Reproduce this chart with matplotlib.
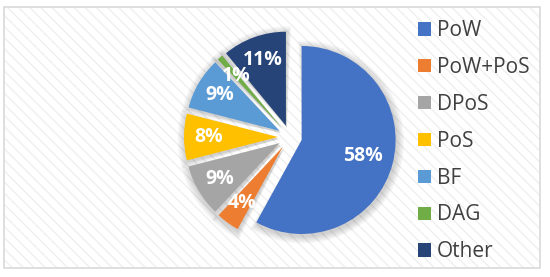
import matplotlib
matplotlib.use("Agg")
import matplotlib.pyplot as plt
from matplotlib.patches import Rectangle, Wedge

labels = ["PoW", "PoW+PoS", "DPoS", "PoS", "BF", "DAG", "Other"]
shares = [58, 4, 9, 8, 9, 1, 11]
colors = ["#4472C4", "#ED7D31", "#A5A5A5", "#FFC000", "#5B9BD5", "#70AD47", "#264478"]

plt.rcParams["font.family"] = ["Open Sans", "DejaVu Sans"]

W, H = 550, 277
fig = plt.figure(figsize=(W / 100, H / 100), dpi=100)
fig.patch.set_facecolor("white")
ax = fig.add_axes([0, 0, 1, 1])

# chart frame with faint diagonal texture
ax.add_patch(Rectangle((4, H - 268), 536, 261, facecolor="white",
                       edgecolor="#D9D9D9", linewidth=1.2, zorder=0))
plt.rcParams["hatch.color"] = "#EFEFEF"
plt.rcParams["hatch.linewidth"] = 1.0
ax.add_patch(Rectangle((5, H - 267), 534, 259, facecolor="none",
                       edgecolor="#EFEFEF", hatch="\\\\\\", linewidth=0, zorder=0.5))

cx, cy, r = 290, H - 137, 94
# pie explode is in data units here (pixels)
explode = [12] * len(shares)

# soft shadow behind the slices
shadow_pie, _ = ax.pie(shares, radius=r, center=(cx, cy), startangle=90,
                       counterclock=False, explode=explode, frame=True)
for w in shadow_pie:
    w.remove()
for w in shadow_pie:
    for k in range(6):
        sw = Wedge((w.center[0] + 1, w.center[1] - 2), w.r + 1 + 1.3 * k,
                   w.theta1 - 0.5 * k, w.theta2 + 0.5 * k,
                   facecolor="#000000", alpha=0.03, edgecolor="none", zorder=1)
        ax.add_patch(sw)

wedges, texts, autotexts = ax.pie(
    shares, radius=r, center=(cx, cy), startangle=90, counterclock=False,
    colors=colors, explode=explode, autopct="%d%%", pctdistance=0.74,
    wedgeprops=dict(edgecolor="none"), frame=True,
    textprops=dict(color="white", fontsize=14, fontweight="bold"),
)
for w in wedges:
    w.set_zorder(2)
for t in autotexts:
    t.set_zorder(3)
# the big slice carries its label a little closer to the centre
big = autotexts[0]
bx, by = big.get_position()
wx, wy = wedges[0].center
big.set_position((wx + (bx - wx) * 0.67 / 0.74, wy + (by - wy) * 0.67 / 0.74))

ax.set_xlim(0, W)
ax.set_ylim(0, H)
ax.set_aspect("equal")
ax.axis("off")

# legend
handles = [Rectangle((0, 0), 1, 1, facecolor=c, edgecolor="none") for c in colors]
leg = ax.legend(handles, labels, loc="upper left", bbox_to_anchor=(410 / W, 1 - 12 / H),
                frameon=False, fontsize=15, handlelength=0.6, handleheight=0.6,
                handletextpad=0.3, labelspacing=0.76, borderaxespad=0)
for txt in leg.get_texts():
    txt.set_color("#404040")

fig.savefig("out.png", dpi=100, facecolor="white")
